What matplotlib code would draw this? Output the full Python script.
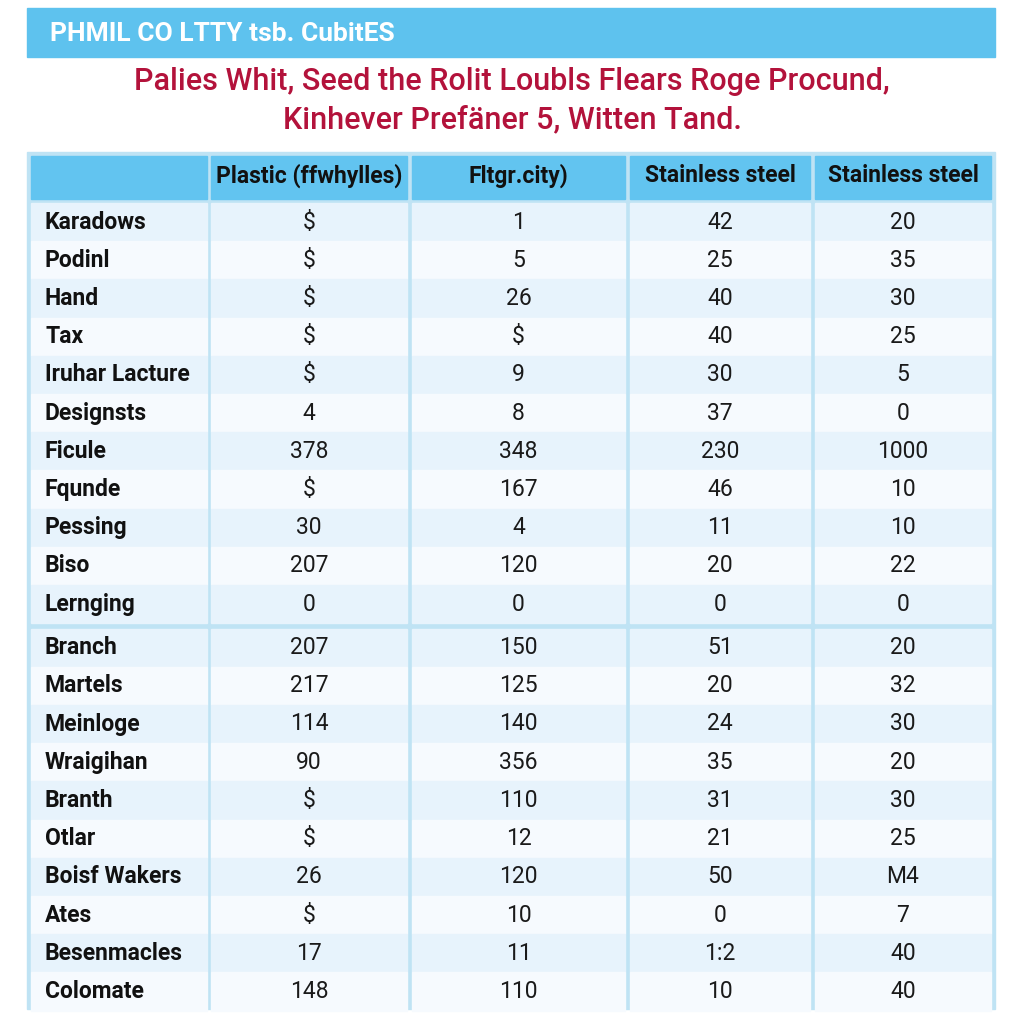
import matplotlib.pyplot as plt
from matplotlib.patches import Rectangle

plt.rcParams['font.family'] = ['Roboto', 'DejaVu Sans']

banner_text = "PHMIL CO LTTY tsb. CubitES"
title_lines = ["Palies Whit, Seed the Rolit Loubls Flears Roge Procund,",
               "Kinhever Prefäner 5, Witten Tand."]
headers = ["", "Plastic (ffwhylles)", "Fltgr.city)", "Stainless steel", "Stainless steel"]

labels_a = ["Karadows", "Podinl", "Hand", "Tax", "Iruhar Lacture", "Designsts",
            "Ficule", "Fqunde", "Pessing", "Biso", "Lernging"]
labels_b = ["Branch", "Martels", "Meinloge", "Wraigihan", "Branth", "Otlar",
            "Boisf Wakers", "Ates", "Besenmacles", "Colomate"]

plastic = ["$", "$", "$", "$", "$", "4", "378", "$", "30", "207", "0",
           "207", "217", "114", "90", "$", "$", "26", "$", "17", "148"]
fltgr = ["1", "5", "26", "$", "9", "8", "348", "167", "4", "120", "0",
         "150", "125", "140", "356", "110", "12", "120", "10", "11", "110"]
steel_a = ["42", "25", "40", "40", "30", "37", "230", "46", "11", "20", "0",
           "51", "20", "24", "35", "31", "21", "50", "0", "1:2", "10"]
steel_b = ["20", "35", "30", "25", "5", "0", "1000", "10", "10", "22", "0",
           "20", "32", "30", "20", "30", "25", "M4", "7", "40", "40"]

columns = [plastic, fltgr, steel_a, steel_b]

fig = plt.figure(figsize=(10.24, 10.24), dpi=100)
ax = fig.add_axes([0, 0, 1, 1])
ax.set_xlim(0, 1024)
ax.set_ylim(1024, 0)
ax.axis('off')

# banner
ax.add_patch(Rectangle((27, 8), 968, 49, color='#5ec2ee', zorder=1))
ax.text(50, 34, banner_text, color='white', fontsize=19, fontweight='bold',
        va='center', ha='left')

# red title
for i, line in enumerate(title_lines):
    ax.text(512, 82 + 38 * i, line, color='#b3123b', fontsize=22,
            fontweight='medium', ha='center', va='center')

# table frame
ax.add_patch(Rectangle((27, 152), 968, 857, color='#bfe3f4', zorder=1))

col_x = [(31, 207), (211, 407), (412, 625), (630, 810), (815, 991)]
header_top, header_bot = 156, 199

for (x0, x1), h in zip(col_x, headers):
    ax.add_patch(Rectangle((x0, header_top), x1 - x0, header_bot - header_top,
                           color='#62c4f0', zorder=2))
    if h:
        ax.text((x0 + x1) / 2, 176, h, fontsize=16.5, fontweight='bold',
                color='#111111', ha='center', va='center')

# body rows
row_h = 38.2
groups = [(labels_a, 203), (labels_b, 628.5)]
row_i = 0
for labels, top in groups:
    for j, lab in enumerate(labels):
        y0 = top + j * row_h
        fill = '#e7f3fc' if j % 2 == 0 else '#f6fafe'
        for (x0, x1) in col_x:
            ax.add_patch(Rectangle((x0, y0), x1 - x0, row_h,
                                   color=fill, zorder=2))
        yc = y0 + row_h / 2
        ax.text(45, yc, lab, fontsize=16.5, fontweight='bold', color='#111111',
                ha='left', va='center', zorder=3)
        for (x0, x1), col in zip(col_x[1:], columns):
            ax.text((x0 + x1) / 2, yc, col[row_i], fontsize=16.5,
                    color='#1a1a1a', ha='center', va='center', zorder=3)
        row_i += 1

fig.savefig('out.png', dpi=100, facecolor='white')
